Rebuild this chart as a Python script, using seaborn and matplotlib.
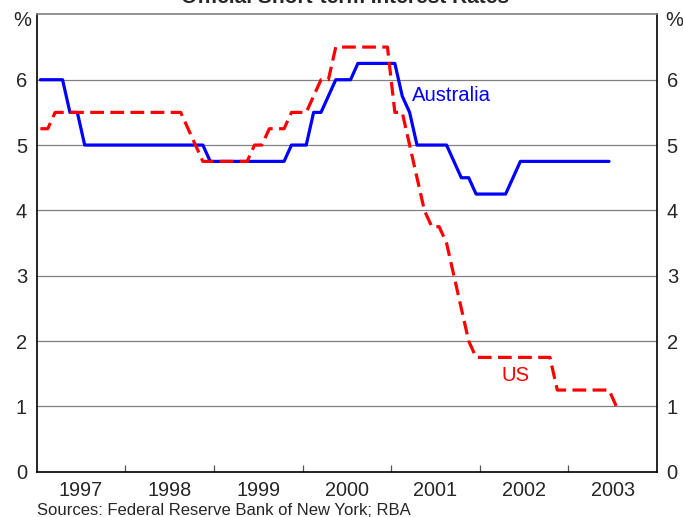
import numpy as np
import pandas as pd
import matplotlib
matplotlib.use("Agg")
import matplotlib.pyplot as plt
import seaborn as sns

# Monthly rates, end of month, Jan 1997 onwards (per cent)
aus_rate = [6.0, 6.0, 6.0, 6.0, 5.5, 5.5, 5.0, 5.0, 5.0, 5.0, 5.0, 5.0,
            5.0, 5.0, 5.0, 5.0, 5.0, 5.0, 5.0, 5.0, 5.0, 5.0, 5.0, 4.75,
            4.75, 4.75, 4.75, 4.75, 4.75, 4.75, 4.75, 4.75, 4.75, 4.75, 5.0, 5.0,
            5.0, 5.5, 5.5, 5.75, 6.0, 6.0, 6.0, 6.25, 6.25, 6.25, 6.25, 6.25,
            6.25, 5.75, 5.5, 5.0, 5.0, 5.0, 5.0, 5.0, 4.75, 4.5, 4.5, 4.25,
            4.25, 4.25, 4.25, 4.25, 4.5, 4.75, 4.75, 4.75, 4.75, 4.75, 4.75, 4.75,
            4.75, 4.75, 4.75, 4.75, 4.75, 4.75]

us_rate = [5.25, 5.25, 5.5, 5.5, 5.5, 5.5, 5.5, 5.5, 5.5, 5.5, 5.5, 5.5,
           5.5, 5.5, 5.5, 5.5, 5.5, 5.5, 5.5, 5.5, 5.25, 5.0, 4.75, 4.75,
           4.75, 4.75, 4.75, 4.75, 4.75, 5.0, 5.0, 5.25, 5.25, 5.25, 5.5, 5.5,
           5.5, 5.75, 6.0, 6.0, 6.5, 6.5, 6.5, 6.5, 6.5, 6.5, 6.5, 6.5,
           5.5, 5.5, 5.0, 4.5, 4.0, 3.75, 3.75, 3.5, 3.0, 2.5, 2.0, 1.75,
           1.75, 1.75, 1.75, 1.75, 1.75, 1.75, 1.75, 1.75, 1.75, 1.75, 1.25, 1.25,
           1.25, 1.25, 1.25, 1.25, 1.25, 1.25, 1.0]

years = [1997, 1998, 1999, 2000, 2001, 2002, 2003]
y_ticks = [0, 1, 2, 3, 4, 5, 6]

# mid-month positions in decimal years
def month_pos(n):
    return 1997 + (np.arange(n) + 0.5) / 12

df = pd.concat([
    pd.DataFrame({"date": month_pos(len(aus_rate)), "rate": aus_rate, "country": "Australia"}),
    pd.DataFrame({"date": month_pos(len(us_rate)), "rate": us_rate, "country": "US"}),
])

sns.set_style("white")
plt.rcParams['font.family'] = ['Liberation Sans', 'DejaVu Sans']

fig = plt.figure(figsize=(6.83, 5.17), dpi=100)
ax = fig.add_axes([36.7 / 683, 45.3 / 517, (657 - 36.7) / 683, (472 - 14.7) / 517])

sns.lineplot(data=df, x="date", y="rate", hue="country", style="country",
             palette={"Australia": "#0000FF", "US": "#FF0000"},
             dashes={"Australia": "", "US": (4.3, 2.0)},
             linewidth=2.3, legend=False, ax=ax)

ax.set_xlim(1997, 2004)
ax.set_ylim(0, 7)
ax.set_xlabel("")
ax.set_ylabel("")

ax.set_yticks(y_ticks)
ax.set_yticklabels([str(t) for t in y_ticks])
ax.yaxis.grid(True, color="#808080", linewidth=0.9)
ax.set_axisbelow(True)
ax.tick_params(axis="y", which="both", length=0, labelsize=14.5, pad=7,
               labelleft=True, labelright=True)

ax.set_xticks(years[1:])
ax.set_xticklabels([])
ax.set_xticks([y + 0.5 for y in years], minor=True)
ax.set_xticklabels([str(y) for y in years], minor=True)
ax.tick_params(axis="x", which="major", direction="in", length=5, width=0.9,
               color="#555555", bottom=True)
ax.tick_params(axis="x", which="minor", length=0, labelsize=14.3, pad=6.5)

for side in ["left", "right", "bottom"]:
    ax.spines[side].set_color("black")
    ax.spines[side].set_linewidth(1.2)
ax.spines["top"].set_color("#808080")
ax.spines["top"].set_linewidth(1.2)

ax.text(-0.009, 1.008, "%", transform=ax.transAxes, ha="right", va="top", fontsize=14.5)
ax.text(1.013, 1.008, "%", transform=ax.transAxes, ha="left", va="top", fontsize=14.5)

ax.text(2001.23, 5.76, "Australia", color="#0000FF", fontsize=14.6, ha="left", va="center")
ax.text(2002.24, 1.48, "US", color="#FF0000", fontsize=14.6, ha="left", va="center")

fig.text(0.505, 0.994, "Official Short-term Interest Rates", ha="center",
         va="baseline", fontsize=15, fontweight="bold")
fig.text(36.7 / 683, 1 - 510.7 / 517, "Sources: Federal Reserve Bank of New York; RBA",
         ha="left", va="center", fontsize=12)

fig.savefig("out.png", dpi=100)
